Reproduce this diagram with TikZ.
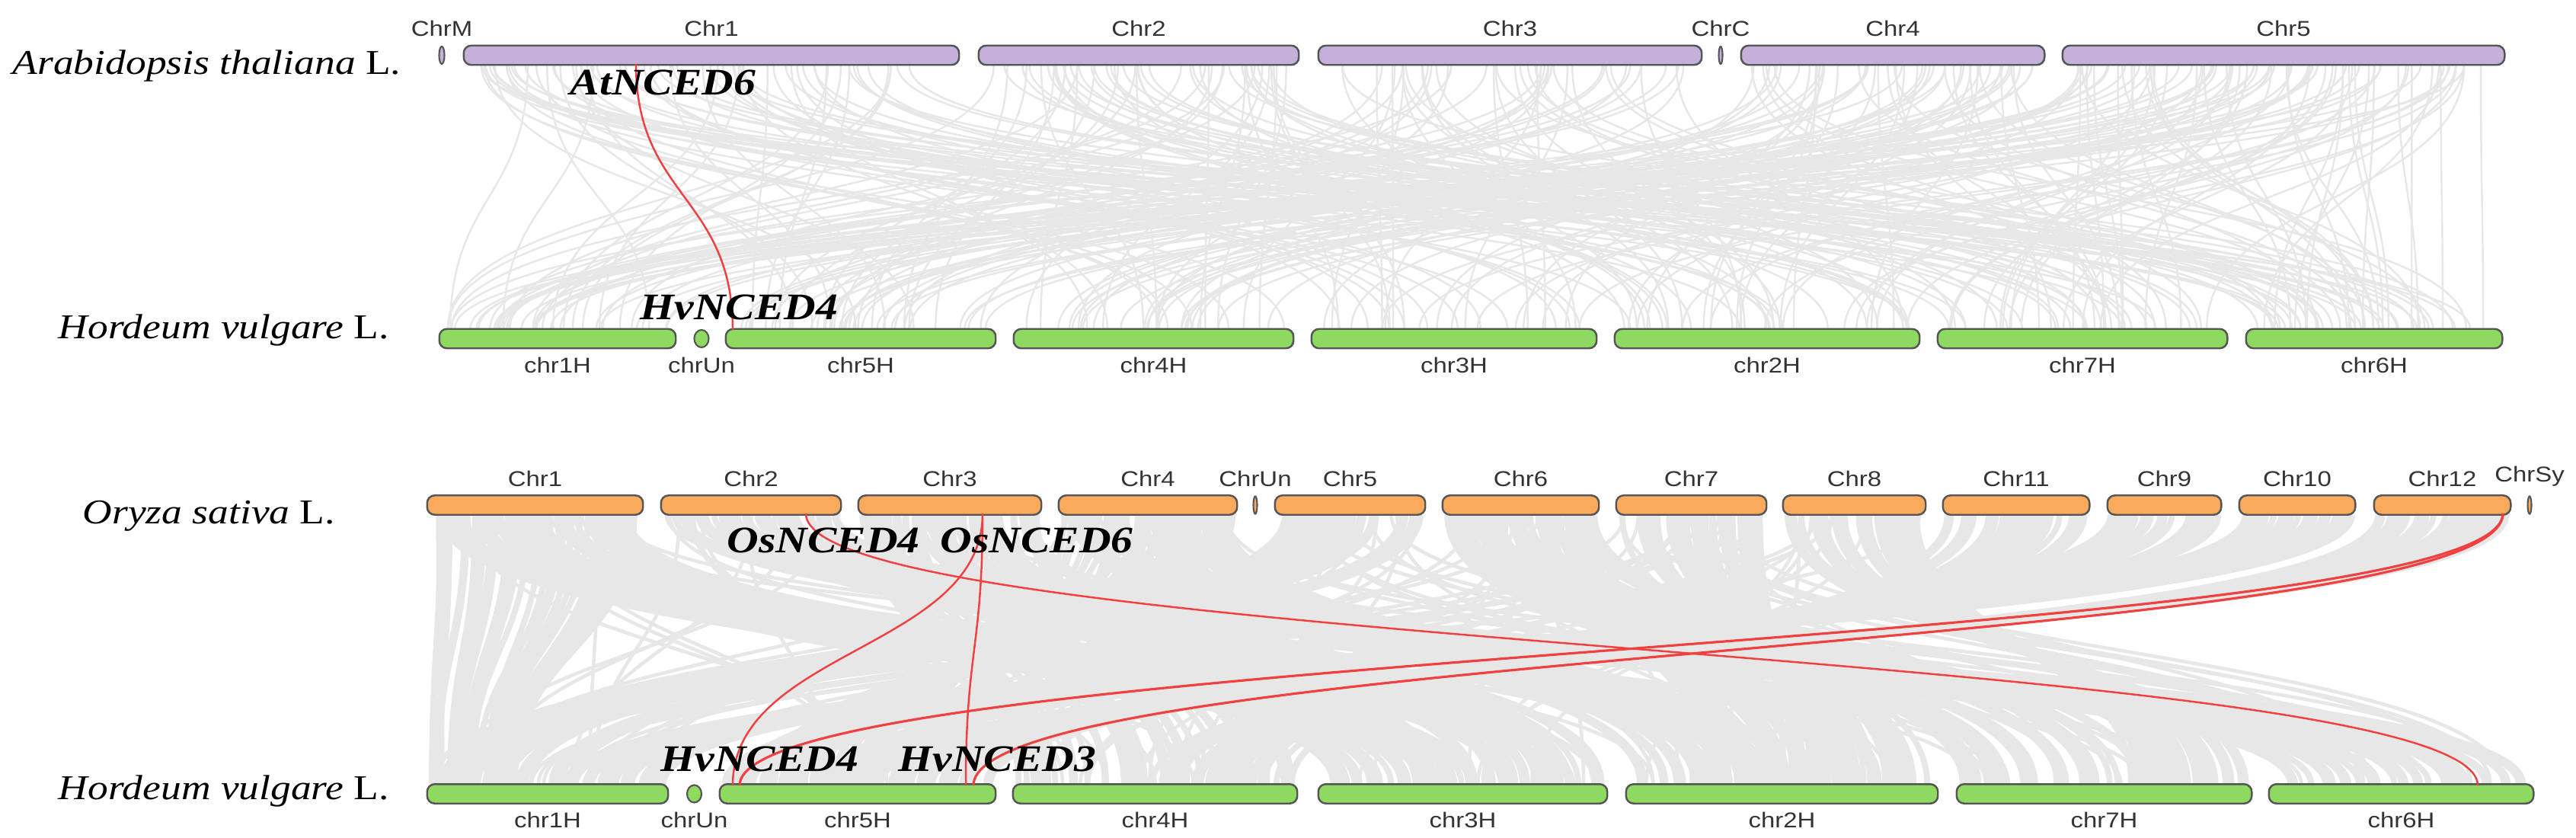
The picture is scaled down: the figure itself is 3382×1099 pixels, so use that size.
\documentclass[tikz,border=0pt]{standalone}
\usepackage{fontspec}
\setmainfont[FakeStretch=1.17]{Liberation Serif}
\newfontfamily\chrfont[FakeStretch=1.17]{Liberation Sans}
\usetikzlibrary{calc,shapes.geometric}

\definecolor{atcol}{RGB}{196,176,216}
\definecolor{oscol}{RGB}{250,170,92}
\definecolor{hvcol}{RGB}{142,218,96}
\definecolor{linkgray}{RGB}{231,231,231}
\definecolor{linkred}{RGB}{240,64,64}
\definecolor{edgecol}{RGB}{85,85,85}

\tikzset{
  chrbar/.style={draw=edgecol, line width=0.7pt, rounded corners=0.1cm, minimum height=0.23cm, inner sep=0pt},
  chrdot/.style={draw=edgecol, line width=0.6pt, ellipse, minimum height=0.23cm, inner sep=0pt},
  chrname/.style={font=\chrfont\fontsize{8}{9}\selectfont, text=black!80, inner sep=0pt, label distance=0.11cm},
  species/.style={font=\fontsize{13}{15}\selectfont\itshape, anchor=base west, inner sep=0pt},
  gene/.style={font=\fontsize{14}{16}\selectfont\bfseries\itshape, anchor=base west, inner sep=0pt},
  thinlink/.style={linkgray, line width=0.7pt},
  bandlink/.style={linkgray, line width=2.2pt},
  redlink/.style={linkred, line width=0.7pt}
}

\begin{document}
\begin{tikzpicture}[x=0.01cm, y=0.01cm]
  \useasboundingbox (0,0) rectangle (3382,1099);

  %Arabidopsis chromosomes
  \foreach \nm/\lab/\xa/\xb in {a1/Chr1/610/1258, a2/Chr2/1286/1704, a3/Chr3/1732/2233, a4/Chr4/2287/2683, a5/Chr5/2709/3287}{
    \node[chrbar, fill=atcol, minimum width={(\xb-\xa)*0.01cm}, label={[chrname]above:\lab}] (\nm) at ({(\xa+\xb)/2}, 1026.5) {};
  }
  \node[chrdot, fill=atcol, minimum width=0.07cm, label={[chrname]above:ChrM}] (aM) at (580, 1026.5) {};
  \node[chrdot, fill=atcol, minimum width=0.05cm, label={[chrname]above:ChrC}] (aC) at (2259, 1026.5) {};

  %barley chromosomes, upper panel
  \foreach \nm/\lab/\xa/\xb in {h1/chr1H/578/886, h5/chr5H/954/1306, h4/chr4H/1332/1697, h3/chr3H/1723/2095, h2/chr2H/2121/2519, h7/chr7H/2545/2923, h6/chr6H/2950/3284}{
    \node[chrbar, fill=hvcol, minimum width={(\xb-\xa)*0.01cm}, label={[chrname]below:\lab}] (\nm) at ({(\xa+\xb)/2}, 654.5) {};
  }
  \node[chrdot, fill=hvcol, minimum width=0.19cm, label={[chrname]below:chrUn}] (hU) at (921, 654.5) {};

  %rice chromosomes
  \foreach \nm/\lab/\xa/\xb in {r1/Chr1/562/843, r2/Chr2/869/1103, r3/Chr3/1128/1366, r4/Chr4/1391/1623, r5/Chr5/1675/1870, r6/Chr6/1895/2098, r7/Chr7/2123/2318, r8/Chr8/2342/2527, r11/Chr11/2552/2742, r9/Chr9/2768/2915, r10/Chr10/2941/3091, r12/Chr12/3118/3295}{
    \node[chrbar, fill=oscol, minimum width={(\xb-\xa)*0.01cm}, label={[chrname]above:\lab}] (\nm) at ({(\xa+\xb)/2}, 436) {};
  }
  \node[chrdot, fill=oscol, minimum width=0.05cm, label={[chrname]above:ChrUn}] (rU) at (1648, 436) {};
  \node[chrdot, fill=oscol, minimum width=0.05cm, label={[chrname]above:ChrSy}] (rSy) at (3321, 436) {};

  %barley chromosomes, lower panel
  \foreach \nm/\lab/\xa/\xb in {g1/chr1H/562/876, g5/chr5H/946/1306, g4/chr4H/1331/1702, g3/chr3H/1732/2109, g2/chr2H/2136/2543, g7/chr7H/2570/2955, g6/chr6H/2980/3325}{
    \node[chrbar, fill=hvcol, minimum width={(\xb-\xa)*0.01cm}, label={[chrname]below:\lab}] (\nm) at ({(\xa+\xb)/2}, 57) {};
  }
  \node[chrdot, fill=hvcol, minimum width=0.19cm, label={[chrname]below:chrUn}] (gU) at (911.5, 57) {};

  %gray collinear links, upper panel
  \pgfmathsetseed{11}
  \pgfmathdeclarerandomlist{atlist}{{a1}{a1}{a1}{a2}{a2}{a3}{a3}{a4}{a4}{a5}{a5}{a5}}
  \pgfmathdeclarerandomlist{hvlist}{{h1}{h5}{h4}{h3}{h2}{h7}{h6}}
  \foreach \k in {1,...,320}{
    \pgfmathrandomitem{\src}{atlist}
    \pgfmathrandomitem{\dst}{hvlist}
    \pgfmathsetmacro{\s}{0.03+0.94*rnd}
    \pgfmathsetmacro{\t}{0.03+0.94*rnd}
    \draw[thinlink] ($(\src.south west)!\s!(\src.south east)$) .. controls +(0,-175) and +(0,175) .. ($(\dst.north west)!\t!(\dst.north east)$);
  }

  %gray collinear links, lower panel
  \foreach \src/\dst/\ta/\tb/\rev in {r1/g3/0/1/0, r2/g6/0/1/0, r3/g4/0/1/0, r4/g2/0/0.5/0, r7/g2/0.5/1/1, r5/g1/0/0.6/0, r10/g1/0.6/1/1, r6/g7/0/0.6/0, r8/g7/0.6/1/1, r9/g5/0/0.5/0, r12/g5/0.5/1/1, r11/g4/0.5/1/1, r1/g1/0/0.4/0, r4/g5/0.2/0.7/1, r3/g3/0.3/1/0, r6/g2/0.2/0.8/1}{
    \foreach \k in {1,...,40}{
      \pgfmathsetmacro{\s}{0.02+0.96*rnd}
      \pgfmathsetmacro{\u}{\rev*(1-\s)+(1-\rev)*\s}
      \pgfmathsetmacro{\t}{max(0.02,min(0.98,\ta+(\tb-\ta)*\u+0.08*(rnd-0.5)))}
      \draw[bandlink] ($(\src.south west)!\s!(\src.south east)$) .. controls +(0,-178) and +(0,178) .. ($(\dst.north west)!\t!(\dst.north east)$);
    }
  }
  \pgfmathdeclarerandomlist{oslist}{{r1}{r2}{r3}{r4}{r5}{r6}{r7}{r8}}
  \pgfmathdeclarerandomlist{hvlistb}{{g1}{g5}{g4}{g3}{g2}{g7}{g6}}
  \foreach \k in {1,...,120}{
    \pgfmathrandomitem{\src}{oslist}
    \pgfmathrandomitem{\dst}{hvlistb}
    \pgfmathsetmacro{\s}{0.03+0.94*rnd}
    \pgfmathsetmacro{\t}{0.03+0.94*rnd}
    \draw[linkgray, line width=1.3pt] ($(\src.south west)!\s!(\src.south east)$) .. controls +(0,-178) and +(0,178) .. ($(\dst.north west)!\t!(\dst.north east)$);
  }

  %redraw chromosomes over the links
  \foreach \nm/\col in {a1/atcol, a2/atcol, a3/atcol, a4/atcol, a5/atcol, h1/hvcol, h5/hvcol, h4/hvcol, h3/hvcol, h2/hvcol, h7/hvcol, h6/hvcol, r1/oscol, r2/oscol, r3/oscol, r4/oscol, r5/oscol, r6/oscol, r7/oscol, r8/oscol, r9/oscol, r10/oscol, r11/oscol, r12/oscol, g1/hvcol, g5/hvcol, g4/hvcol, g3/hvcol, g2/hvcol, g7/hvcol, g6/hvcol}{
    \draw[draw=edgecol, line width=0.7pt, rounded corners=0.1cm, fill=\col] (\nm.south west) rectangle (\nm.north east);
  }

  %NCED gene positions
  \coordinate (atN6) at (835, 1015);
  \coordinate (hvN4t) at (962, 666);
  \coordinate (osN4) at (1058, 425);
  \coordinate (osN6) at (1290, 425);
  \coordinate (os12) at (3286, 425);
  \coordinate (hvN4b) at (962, 68);
  \coordinate (hvN4c) at (971, 68);
  \coordinate (hvN3b) at (1268, 68);
  \coordinate (hvN3c) at (1278, 68);
  \coordinate (hv6) at (3253, 68);

  %NCED links
  \draw[redlink] (atN6) .. controls +(0,-175) and +(0,175) .. (hvN4t);
  \draw[redlink] (osN4) .. controls +(0,-178) and +(0,178) .. (hv6);
  \draw[redlink] (osN6) .. controls +(0,-178) and +(0,178) .. (hvN3b);
  \draw[redlink] (osN6) .. controls +(0,-178) and +(0,178) .. (hvN4b);
  \draw[redlink, line width=0.9pt] (os12) .. controls +(0,-178) and +(0,178) .. (hvN4c);
  \draw[redlink, line width=0.9pt] (os12) .. controls +(0,-178) and +(0,178) .. (hvN3c);

  %species names
  \node[species] (atname) at (16, 1001) {Arabidopsis thaliana \textup{L.}};
  \node[species] (hvnamea) at (76, 655) {Hordeum vulgare \textup{L.}};
  \node[species] (osname) at (108, 412) {Oryza sativa \textup{L.}};
  \node[species] (hvnameb) at (76, 50) {Hordeum vulgare \textup{L.}};

  %gene names
  \node[gene] (atN6lab) at (748, 974) {AtNCED6};
  \node[gene] (hvN4tlab) at (840, 680) {HvNCED4};
  \node[gene] (osN4lab) at (954, 374) {OsNCED4};
  \node[gene] (osN6lab) at (1234, 374) {OsNCED6};
  \node[gene] (hvN4blab) at (867, 87) {HvNCED4};
  \node[gene] (hvN3blab) at (1179, 87) {HvNCED3};
\end{tikzpicture}
\end{document}
